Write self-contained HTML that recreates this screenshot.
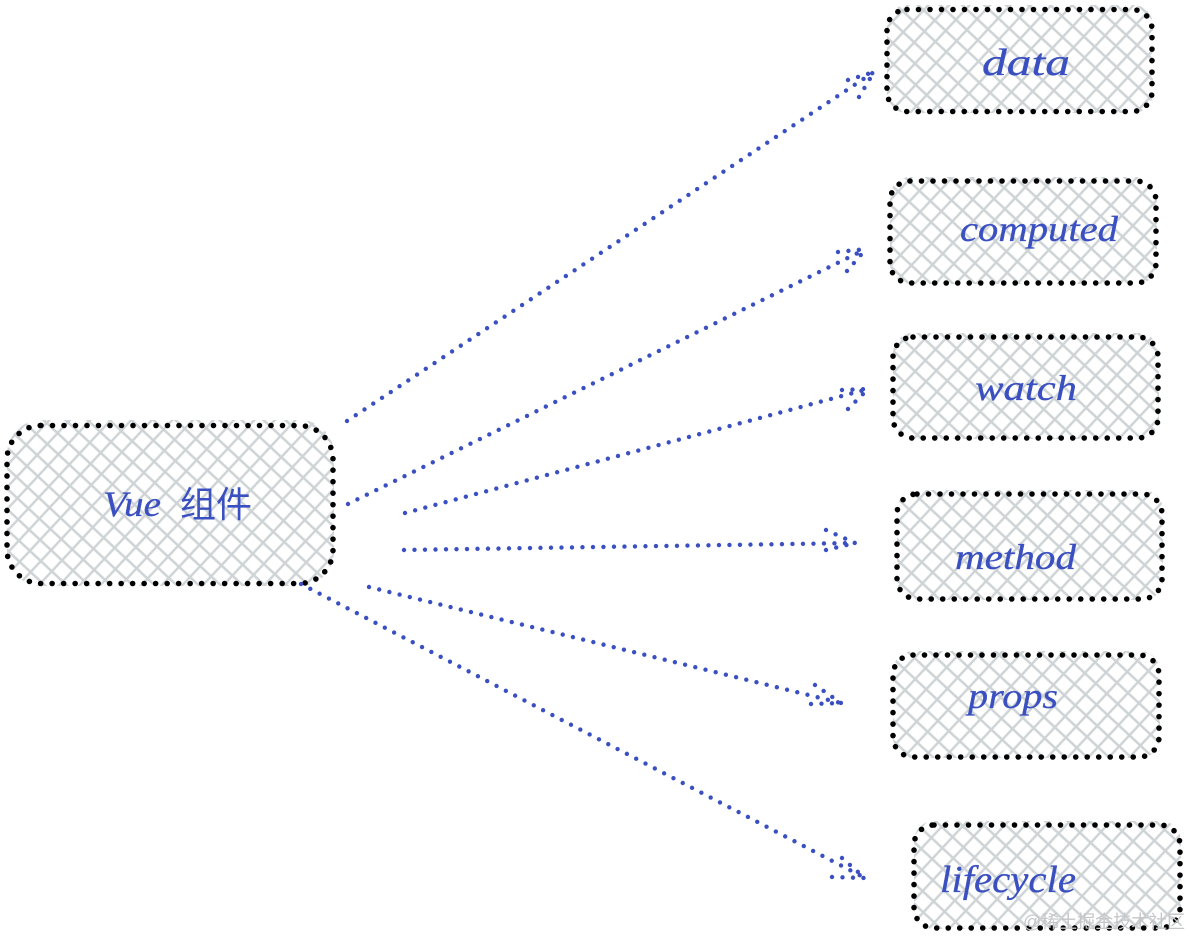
<!DOCTYPE html>
<html>
<head>
<meta charset="utf-8">
<style>
html,body{margin:0;padding:0;background:#fff;width:1189px;height:937px;overflow:hidden}
svg{display:block}
text{font-family:"Liberation Serif","Noto Sans CJK SC",serif;font-style:italic;fill:#3b50c0;stroke:#3b50c0;stroke-width:.3}
.b{fill:none;stroke:#000;stroke-width:5.6;stroke-linecap:round;stroke-dasharray:0 11.5}
.a{fill:none;stroke:#3b50c0;stroke-width:4.4;stroke-linecap:round;stroke-dasharray:0 10.5}
.h{fill:url(#hatch)}
</style>
</head>
<body>
<svg width="1189" height="937" viewBox="0 0 1189 937" xmlns="http://www.w3.org/2000/svg">
<defs>
<pattern id="hatch" patternUnits="userSpaceOnUse" width="15" height="15" patternTransform="rotate(43)">
<rect width="15" height="15" fill="#fff"/>
<path d="M7.500 0V15M0 7.500H15" stroke="#ced3d6" stroke-width="2.400"/>
</pattern>
</defs>

<rect class="h" x="7" y="420" width="327" height="166" rx="34"/>
<rect class="h" x="887" y="5" width="266" height="108" rx="20"/>
<rect class="h" x="890" y="177" width="267" height="107" rx="20"/>
<rect class="h" x="893" y="333" width="266" height="106" rx="20"/>
<rect class="h" x="897" y="490" width="266" height="110" rx="20"/>
<rect class="h" x="893" y="651" width="267" height="107" rx="20"/>
<rect class="h" x="914" y="821" width="267" height="108" rx="20"/>

<rect class="b" x="7" y="425.500" width="326" height="158" rx="34"/>
<rect class="b" x="887" y="9.500" width="265" height="102" rx="20"/>
<rect class="b" x="890" y="181" width="266" height="102" rx="20"/>
<rect class="b" x="893" y="337" width="265" height="101" rx="20"/>
<rect class="b" x="897" y="494" width="265" height="105" rx="20"/>
<rect class="b" x="893" y="655" width="266" height="102" rx="20"/>
<rect class="b" x="914" y="825" width="266" height="103" rx="20"/>

<path class="a" d="M347 421L874 72M848 80L874 72M859 97L874 72"/>
<path class="a" d="M348 504L866 249M838 252L866 249M847 271L866 249"/>
<path class="a" d="M405 513L868 389M842 390L868 389M848 409L868 389"/>
<path class="a" d="M404 550L855 543M826 530L855 543M826 550L855 543"/>
<path class="a" d="M369 587L841 703M815 685L841 703M811 704L841 703"/>
<path class="a" d="M301 584L865 878M842 858L865 878M832 877L865 878"/>

<text x="103" y="516" font-size="36" textLength="58" lengthAdjust="spacingAndGlyphs">Vue</text>
<text x="180" y="517" font-size="36" style="font-style:normal;font-family:'Noto Sans CJK SC',sans-serif;stroke-width:0" textLength="72">组件</text>
<text x="982" y="75" font-size="38" textLength="88" lengthAdjust="spacingAndGlyphs">data</text>
<text x="960" y="241" font-size="36" textLength="158" lengthAdjust="spacingAndGlyphs">computed</text>
<text x="975" y="400" font-size="36" textLength="102" lengthAdjust="spacingAndGlyphs">watch</text>
<text x="955" y="569" font-size="36" textLength="121" lengthAdjust="spacingAndGlyphs">method</text>
<text x="968" y="708" font-size="36" textLength="90" lengthAdjust="spacingAndGlyphs">props</text>
<text x="940" y="892" font-size="38" textLength="136" lengthAdjust="spacingAndGlyphs">lifecycle</text>
<text x="1023" y="928" font-size="18" style="font-style:normal;font-family:'Liberation Sans','Noto Sans CJK SC',sans-serif;fill:#c4c6c8;stroke:none" textLength="162">@稀土掘金技术社区</text>
</svg>
</body>
</html>
